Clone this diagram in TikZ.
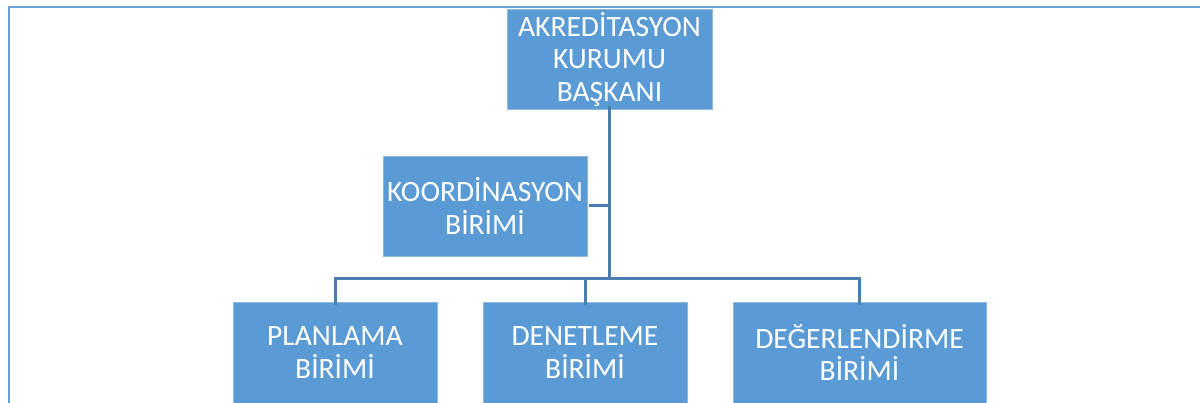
\documentclass[tikz,border=0pt]{standalone}
\usepackage{fontspec}
\setmainfont{Carlito}
\definecolor{boxfill}{HTML}{5B9BD5}
\definecolor{boxedge}{HTML}{8DB8E2}
\definecolor{linkcol}{HTML}{4A7EB0}
\definecolor{framecol}{HTML}{6A9FDA}
\begin{document}
\begin{tikzpicture}[x=1pt,y=-1pt,
  unit/.style={rectangle, fill=boxfill, draw=boxedge, line width=0.8pt, text=white,
    align=center, inner sep=0pt, font=\fontsize{29.5}{32.5}\selectfont},
  link/.style={draw=linkcol, line width=3pt},
  frame/.style={draw=framecol, line width=2.5pt}]
\useasboundingbox (0,0) rectangle (1200,403);
\clip (0,0) rectangle (1200,403);
\fill[white] (0,0) rectangle (1200,403);
\coordinate (f1) at (9,420);
\coordinate (f2) at (9,7);
\coordinate (f3) at (1210,7);
\draw[frame] (f1) -- (f2) -- (f3);
\node[unit, minimum width=205pt, minimum height=100pt] (top) at (609.5,59) {AKREDİTASYON\\KURUMU\\BAŞKANI};
\node[unit, minimum width=204pt, minimum height=100pt] (koord) at (485,206) {KOORDİNASYON\\BİRİMİ};
\node[unit, minimum width=204pt, minimum height=101pt] (plan) at (335,352.5) {PLANLAMA\\BİRİMİ};
\node[unit, minimum width=204pt, minimum height=101pt] (denet) at (585,352.5) {DENETLEME\\BİRİMİ};
\node[unit, minimum width=253pt, minimum height=101pt] (deger) at (859.5,352.5) {DEĞERLENDİRME\\BİRİMİ};
\coordinate (bus) at (609,279);
\draw[link] ([yshift=3pt]top.south -| bus) -- (bus);
\draw[link] ([xshift=2pt]koord.east) -- (koord.east -| bus);
\draw[link] ([yshift=-3pt]plan.north) |- (bus);
\draw[link] ([yshift=-3pt]denet.north) -- (denet.north |- bus);
\draw[link] ([yshift=-3pt]deger.north) |- (bus);
\end{tikzpicture}
\end{document}
